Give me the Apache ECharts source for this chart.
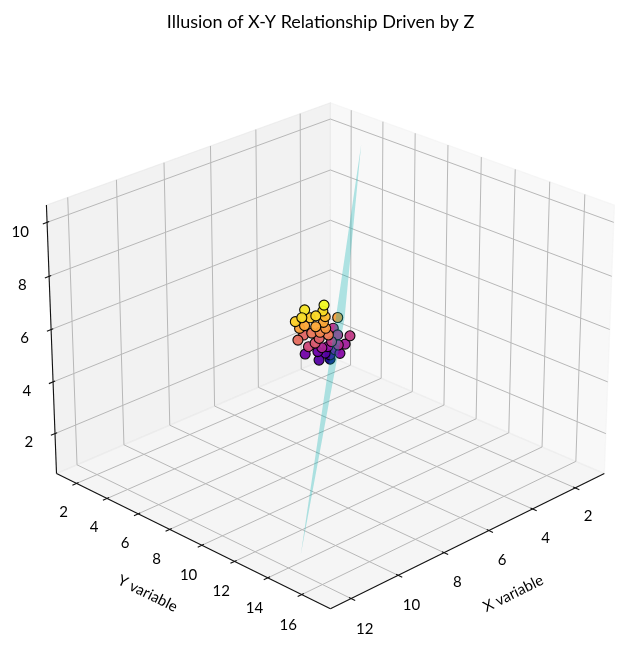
<!DOCTYPE html>
<html>
<head>
<meta charset="utf-8">
<script src="https://cdn.jsdelivr.net/npm/echarts@6/dist/echarts.min.js"></script>
<style>
html, body { margin: 0; padding: 0; background: #fff; }
#chart { width: 641px; height: 670px; }
</style>
</head>
<body>
<div id="chart"></div>
<script>
// axis limits and ticks
var xLim = [0.61, 12.86];
var yLim = [0.67, 17.66];
var zLim = [0.435, 10.635];
var xTicks = [2, 4, 6, 8, 10, 12];
var yTicks = [2, 4, 6, 8, 10, 12, 14, 16];
var zTicks = [2, 4, 6, 8, 10];

// scatter points
var ptX = [11.47, 11.46, 10.88, 11.64, 10.82, 11.14, 11.58, 10.08, 8.94, 9.75, 10.29, 10.31, 10.13, 9.49, 8.63, 8.49, 8.90, 7.84, 4.96, 5.22, 6.09, 5.38, 4.65, 7.49, 7.80, 5.73, 5.48, 4.54, 4.45, 3.77, 2.41, 4.36, 3.58, 1.39, 3.91, 3.06, 9.04, 8.26];
var ptY = [15.37, 14.25, 14.48, 14.34, 13.67, 14.44, 13.88, 13.50, 12.65, 12.94, 12.30, 12.62, 13.02, 12.71, 10.68, 11.48, 10.23, 10.02, 6.88, 7.51, 8.34, 8.49, 7.19, 8.88, 9.72, 7.24, 7.91, 5.95, 4.39, 4.25, 3.14, 6.47, 4.06, 1.73, 5.55, 3.73, 11.75, 9.67];
var ptZ = [10.20, 9.74, 9.55, 9.55, 9.08, 9.46, 9.27, 8.81, 8.15, 8.34, 8.15, 8.34, 8.34, 7.97, 6.95, 7.04, 6.67, 6.29, 4.81, 4.81, 5.09, 5.09, 4.16, 5.55, 6.02, 4.43, 4.62, 3.69, 2.95, 2.76, 1.83, 3.50, 2.30, 0.90, 3.23, 2.30, 7.41, 6.48];

// cyan surface corners
var surfX = [1.03, 9.33, 12.34, 3.59];
var surfY = [3.21, 13.58, 15.21, 4.93];
var surfZ = [9.70, 8.48, 1.44, 3.30];

var plasma = ['#0d0887', '#41049d', '#6a00a8', '#8f0da4', '#b12a90', '#cc4778',
              '#e16462', '#f2844b', '#fca636', '#fcce25', '#f0f921'];

var FONT = 'Lato, "Open Sans", sans-serif';

// view (elev 25, azim 45), perspective like mpl
var EL = 25 * Math.PI / 180, AZ = 45 * Math.PI / 180, DIST = 10;
var BOX = [1.14287, 1.14287, 0.85715];
var U = [-Math.sin(AZ), Math.cos(AZ), 0];
var V = [-Math.sin(EL) * Math.cos(AZ), -Math.sin(EL) * Math.sin(AZ), Math.cos(EL)];
var W = [Math.cos(EL) * Math.cos(AZ), Math.cos(EL) * Math.sin(AZ), Math.sin(EL)];

function toN(x, y, z) {
    return [
        (x - xLim[0]) / (xLim[1] - xLim[0]) * BOX[0] - BOX[0] / 2,
        (y - yLim[0]) / (yLim[1] - yLim[0]) * BOX[1] - BOX[1] / 2,
        (z - zLim[0]) / (zLim[1] - zLim[0]) * BOX[2] - BOX[2] / 2
    ];
}
function dot(a, b) { return a[0] * b[0] + a[1] * b[1] + a[2] * b[2]; }
function projN(d) {
    var den = DIST - dot(W, d);
    return [dot(U, d) / den, dot(V, d) / den, dot(W, d)];
}
function shift(d, o) { return [d[0] + o[0], d[1] + o[1], d[2] + o[2]]; }

// gridlines, 3 points each (floor + wall)
var gridPaths = [];
xTicks.forEach(function (v) {
    gridPaths.push([toN(v, yLim[1], zLim[0]), toN(v, yLim[0], zLim[0]), toN(v, yLim[0], zLim[1])]);
});
yTicks.forEach(function (v) {
    gridPaths.push([toN(xLim[1], v, zLim[0]), toN(xLim[0], v, zLim[0]), toN(xLim[0], v, zLim[1])]);
});
zTicks.forEach(function (v) {
    gridPaths.push([toN(xLim[1], yLim[0], v), toN(xLim[0], yLim[0], v), toN(xLim[0], yLim[1], v)]);
});

var panes = [
    { pts: [toN(xLim[0], yLim[0], zLim[0]), toN(xLim[0], yLim[1], zLim[0]), toN(xLim[0], yLim[1], zLim[1]), toN(xLim[0], yLim[0], zLim[1])], c: 'rgba(242,242,242,0.5)' },
    { pts: [toN(xLim[0], yLim[0], zLim[0]), toN(xLim[1], yLim[0], zLim[0]), toN(xLim[1], yLim[0], zLim[1]), toN(xLim[0], yLim[0], zLim[1])], c: 'rgba(230,230,230,0.5)' },
    { pts: [toN(xLim[0], yLim[0], zLim[0]), toN(xLim[1], yLim[0], zLim[0]), toN(xLim[1], yLim[1], zLim[0]), toN(xLim[0], yLim[1], zLim[0])], c: 'rgba(236,236,236,0.5)' }
];

// axis lines and ticks
var TIN = 0.008, TOUT = 0.016;
var axisPaths = [
    [toN(xLim[0], yLim[1], zLim[0]), toN(xLim[1], yLim[1], zLim[0])],
    [toN(xLim[1], yLim[0], zLim[0]), toN(xLim[1], yLim[1], zLim[0])],
    [toN(xLim[1], yLim[0], zLim[0]), toN(xLim[1], yLim[0], zLim[1])]
];
var labels = [];
xTicks.forEach(function (v) {
    var n = toN(v, yLim[1], zLim[0]);
    axisPaths.push([shift(n, [0, -TIN, 0]), shift(n, [0, TOUT, 0])]);
    labels.push({ p: shift(n, [0, 0.053, -0.075]), t: String(v) });
});
yTicks.forEach(function (v) {
    var n = toN(xLim[1], v, zLim[0]);
    axisPaths.push([shift(n, [-TIN, 0, 0]), shift(n, [TOUT, 0, 0])]);
    labels.push({ p: shift(n, [0.053, 0, -0.075]), t: String(v) });
});
zTicks.forEach(function (v) {
    var n = toN(xLim[1], yLim[0], v);
    axisPaths.push([shift(n, [-TIN, 0, 0]), shift(n, [TOUT, 0, 0])]);
    labels.push({ p: shift(n, [0.055, -0.055, -0.029]), t: String(v) });
});
var xMid = toN((xLim[0] + xLim[1]) / 2, yLim[1], zLim[0]);
var yMid = toN(xLim[1], (yLim[0] + yLim[1]) / 2, zLim[0]);
var axisNames = [
    { p: shift(xMid, [0, 0.16, -0.115]), t: 'X variable', a: axisPaths[0] },
    { p: shift(yMid, [0.16, 0, -0.115]), t: 'Y variable', a: axisPaths[1] }
];

// scatter, far to near
var pts = ptX.map(function (x, i) {
    var q = projN(toN(x, ptY[i], ptZ[i]));
    return [q[0], q[1], ptZ[i], q[2]];
});
pts.sort(function (a, b) { return a[3] - b[3]; });

function toPix(api, d) {
    var q = projN(d);
    return api.coord([q[0], q[1]]);
}
function dummy(arr) { return arr.map(function () { return [0, 0]; }); }

var option = {
    animation: false,
    backgroundColor: '#fff',
    title: {
        text: 'Illusion of X-Y Relationship Driven by Z',
        left: 'center', top: 8,
        textStyle: { fontSize: 18, fontWeight: 'normal', color: '#000', fontFamily: FONT }
    },
    grid: { left: 2.6, top: 30.8, width: 641.4, height: 641.4 },
    xAxis: { type: 'value', min: -0.095, max: 0.09, show: false },
    yAxis: { type: 'value', min: -0.095, max: 0.09, show: false },
    visualMap: {
        show: false, type: 'continuous', seriesIndex: 3, dimension: 2,
        min: Math.min.apply(null, ptZ), max: Math.max.apply(null, ptZ),
        inRange: { color: plasma }
    },
    series: [
        {
            type: 'custom', silent: true, z: 1, data: dummy(panes),
            renderItem: function (params, api) {
                var p = panes[params.dataIndex];
                return {
                    type: 'polygon',
                    shape: { points: p.pts.map(function (d) { return toPix(api, d); }) },
                    style: { fill: p.c, stroke: p.c, lineWidth: 1.2 }
                };
            }
        },
        {
            type: 'custom', silent: true, z: 2, data: dummy(gridPaths),
            renderItem: function (params, api) {
                return {
                    type: 'polyline',
                    shape: { points: gridPaths[params.dataIndex].map(function (d) { return toPix(api, d); }) },
                    style: { stroke: '#b8b8b8', lineWidth: 1, fill: null }
                };
            }
        },
        {
            type: 'custom', silent: true, z: 3, data: dummy(axisPaths.concat(labels, axisNames)),
            renderItem: function (params, api) {
                var i = params.dataIndex;
                if (i < axisPaths.length) {
                    return {
                        type: 'polyline',
                        shape: { points: axisPaths[i].map(function (d) { return toPix(api, d); }) },
                        style: { stroke: '#111', lineWidth: 1.1, fill: null }
                    };
                }
                i -= axisPaths.length;
                var lab, rot = 0;
                if (i < labels.length) {
                    lab = labels[i];
                } else {
                    lab = axisNames[i - labels.length];
                    var a = toPix(api, lab.a[0]), b = toPix(api, lab.a[1]);
                    var dx = b[0] - a[0], dy = b[1] - a[1];
                    if (dx < 0) { dx = -dx; dy = -dy; }
                    rot = -Math.atan2(dy, dx);
                }
                var c = toPix(api, lab.p);
                return {
                    type: 'text', x: c[0], y: c[1], rotation: rot,
                    style: {
                        text: lab.t, fill: '#000', font: '15px ' + FONT,
                        align: 'center', verticalAlign: 'middle'
                    }
                };
            }
        },
        {
            type: 'scatter', silent: true, z: 4,
            data: pts,
            symbolSize: 10,
            itemStyle: { borderColor: '#000', borderWidth: 1.1, opacity: 0.95 }
        },
        {
            type: 'custom', silent: true, z: 5, data: [[0, 0]],
            renderItem: function (params, api) {
                var poly = surfX.map(function (x, i) { return toPix(api, toN(x, surfY[i], surfZ[i])); });
                return {
                    type: 'polygon', shape: { points: poly },
                    style: { fill: 'rgba(0,175,175,0.3)', stroke: null }
                };
            }
        }
    ]
};

var chart = echarts.init(document.getElementById('chart'));
chart.setOption(option);
</script>
</body>
</html>
